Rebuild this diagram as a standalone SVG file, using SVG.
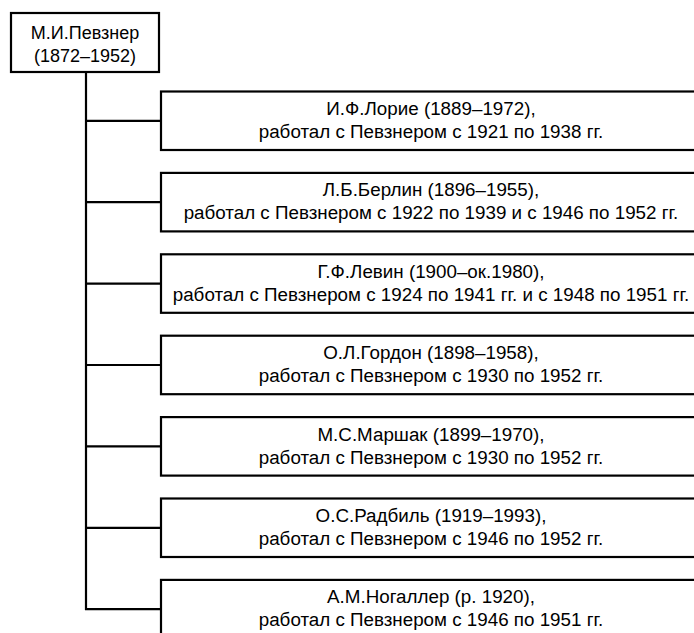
<svg xmlns="http://www.w3.org/2000/svg" width="694" height="633" viewBox="0 0 694 633">
<style>
.box{fill:#fff;stroke:#000;stroke-width:2.2}
.ln{stroke:#000;stroke-width:2.2;fill:none}
text{font-family:"Liberation Sans",Arial,sans-serif;font-size:18.8px;fill:#000;text-anchor:middle}
#pevzner text{font-size:18px}
</style>
<rect width="694" height="633" fill="#fff"/>
<g id="connectors">
<line class="ln" x1="86" y1="72" x2="86" y2="610"/>
<line class="ln" x1="85" y1="120.8" x2="161" y2="120.8"/>
<line class="ln" x1="85" y1="202.2" x2="161" y2="202.2"/>
<line class="ln" x1="85" y1="283.6" x2="161" y2="283.6"/>
<line class="ln" x1="85" y1="365" x2="161" y2="365"/>
<line class="ln" x1="85" y1="446.4" x2="161" y2="446.4"/>
<line class="ln" x1="85" y1="527.8" x2="161" y2="527.8"/>
<line class="ln" x1="85" y1="609.2" x2="161" y2="609.2"/>
</g>
<g id="pevzner">
<rect class="box" x="11" y="13" width="148" height="59"/>
<text x="85" y="39">М.И.Певзнер</text>
<text x="85" y="62">(1872–1952)</text>
</g>
<g id="lorie">
<rect class="box" x="161" y="91.5" width="545" height="58.5"/>
<text x="431" y="115">И.Ф.Лорие (1889–1972),</text>
<text x="431" y="138">работал с Певзнером с 1921 по 1938 гг.</text>
</g>
<g id="berlin">
<rect class="box" x="161" y="172.9" width="545" height="58.5"/>
<text x="431" y="196.4">Л.Б.Берлин (1896–1955),</text>
<text x="431" y="219.4">работал с Певзнером с 1922 по 1939 и с 1946 по 1952 гг.</text>
</g>
<g id="levin">
<rect class="box" x="161" y="254.3" width="545" height="58.5"/>
<text x="431" y="277.8">Г.Ф.Левин (1900–ок.1980),</text>
<text x="431" y="300.8">работал с Певзнером с 1924 по 1941 гг. и с 1948 по 1951 гг.</text>
</g>
<g id="gordon">
<rect class="box" x="161" y="335.7" width="545" height="58.5"/>
<text x="431" y="359.2">О.Л.Гордон (1898–1958),</text>
<text x="431" y="382.2">работал с Певзнером с 1930 по 1952 гг.</text>
</g>
<g id="marshak">
<rect class="box" x="161" y="417.1" width="545" height="58.5"/>
<text x="431" y="440.6">М.С.Маршак (1899–1970),</text>
<text x="431" y="463.6">работал с Певзнером с 1930 по 1952 гг.</text>
</g>
<g id="radbil">
<rect class="box" x="161" y="498.5" width="545" height="58.5"/>
<text x="431" y="522">О.С.Радбиль (1919–1993),</text>
<text x="431" y="545">работал с Певзнером с 1946 по 1952 гг.</text>
</g>
<g id="nogaller">
<rect class="box" x="161" y="579.9" width="545" height="58.5"/>
<text x="431" y="603.4">А.М.Ногаллер (р. 1920),</text>
<text x="431" y="626.4">работал с Певзнером с 1946 по 1951 гг.</text>
</g>
</svg>
